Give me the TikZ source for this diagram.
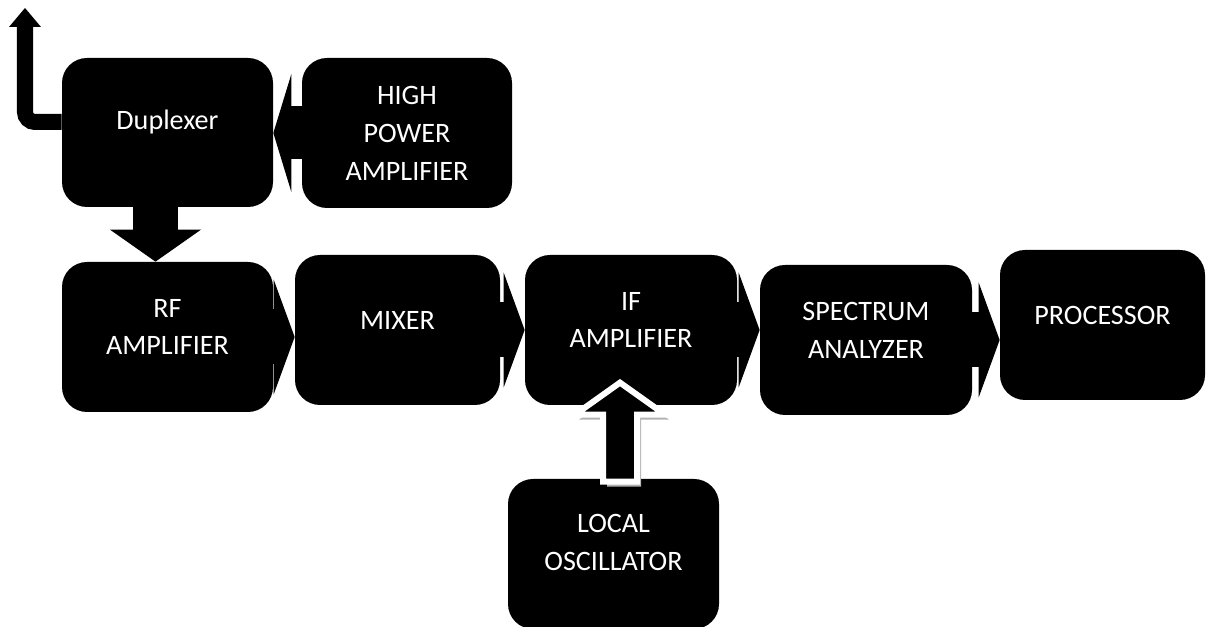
\documentclass[tikz,border=0pt]{standalone}
\usepackage{fontspec}
\setmainfont{Carlito}
\usetikzlibrary{arrows.meta,calc,shadows}

\begin{document}
\begin{tikzpicture}
	
	\tikzstyle{every node}=[font=\fontsize{16}{21.6}\selectfont]
	\tikzstyle{blk}=[fill=black, rounded corners=0.5cm, minimum width=4.22cm, minimum height=3cm, inner sep=0pt]
	\tikzstyle{lbl}=[text=white, align=center, yshift=2mm]
	\tikzstyle{flow}=[line width=1.1cm, -{Triangle[width=2.3cm, length=0.42cm, line width=0pt]}]
	
	\useasboundingbox (0,0) rectangle (24.12,-12.54);
	
	% transmitter side
	\node[blk, minimum height=2.98cm, label={[lbl]center:Duplexer}] (dup) at (3.35,-2.65) {};
	\node[blk, minimum width=4.2cm, label={[lbl,yshift=-2mm]center:{HIGH\\POWER\\AMPLIFIER}}] (hpa) at (8.14,-2.66) {};
	
	% receiver chain
	\node[blk, label={[lbl]center:{RF\\AMPLIFIER}}] (rf) at (3.35,-6.74) {};
	\node[blk, minimum width=4.1cm, label={[lbl]center:MIXER}] (mix) at (7.95,-6.6) {};
	\node[blk, minimum width=4.24cm, label={[lbl]center:{IF\\AMPLIFIER}}] (ifa) at (12.62,-6.6) {};
	\node[blk, minimum width=4.24cm, label={[lbl]center:{SPECTRUM\\ANALYZER}}] (spec) at (17.32,-6.8) {};
	\node[blk, minimum width=4.1cm, label={[lbl]center:PROCESSOR}] (proc) at (22.05,-6.5) {};
	\node[blk, label={[lbl,yshift=0.4mm]center:{LOCAL\\OSCILLATOR}}] (lo) at (12.27,-11.08) {};
	
	% antenna
	\coordinate (ant) at (0.5,-0.16);
	\draw[line width=0.32cm, rounded corners=0.2cm, -{Triangle[width=0.64cm, length=0.38cm, line width=0pt]}] ([yshift=0.21cm]dup.west) -| (ant);
	
	\draw[flow, line width=1.06cm, -{Triangle[width=2.36cm, length=0.36cm, line width=0pt]}] (hpa.west) -- (hpa.west -| dup.east);
	\draw[flow, line width=0.9cm, -{Triangle[width=1.82cm, length=0.64cm, line width=0pt]}] ([xshift=-0.24cm]dup.south) -- ([xshift=-0.24cm]dup.south |- rf.north);
	
	\draw[flow] (rf.east) -- (rf.east -| mix.west);
	\draw[flow] (mix.east) -- (mix.east -| ifa.west);
	\draw[flow] (ifa.east) -- (ifa.east -| spec.west);
	\draw[flow] (spec.east) -- (spec.east -| proc.west);
	
	% oscillator into IF stage
	\draw[fill=black, draw=white, line width=0.12cm, drop shadow={shadow xshift=0.08cm, shadow yshift=-0.1cm, fill=gray!60, opacity=1}]
		([xshift=0.13cm,yshift=-0.06cm]lo.north) ++(-0.34,0) -- ++(0,1.34) -- ++(-0.56,0) -- ++(0.9,0.64) -- ++(0.9,-0.64) -- ++(-0.56,0) -- ++(0,-1.34) -- cycle;
	
\end{tikzpicture}
\end{document}
